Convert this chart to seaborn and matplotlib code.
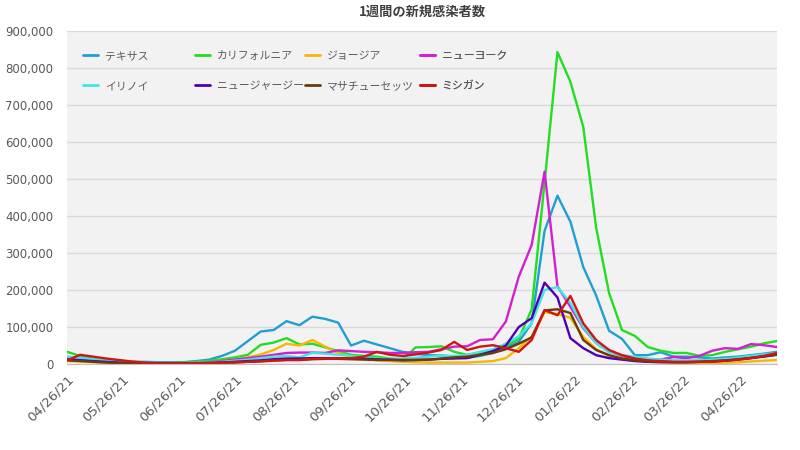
import numpy as np
import pandas as pd
import matplotlib
matplotlib.use('Agg')
import matplotlib.pyplot as plt
import matplotlib.dates as mdates
from matplotlib.lines import Line2D
from matplotlib.ticker import MultipleLocator, FuncFormatter
import seaborn as sns

# Style
sns.set_style('white', {'axes.facecolor': '#f2f2f2'})
plt.rcParams['font.family'] = ['DejaVu Sans', 'Noto Sans CJK JP']

# Weekly data (thousands of new cases), starting 2021-04-26
dates = pd.date_range('2021-04-26', periods=56, freq='7D')

states = ['テキサス', 'カリフォルニア', 'ジョージア', 'ニューヨーク',
          'イリノイ', 'ニュージャージー', 'マサチューセッツ', 'ミシガン']

texas = [15, 12, 9, 7, 6, 6, 6, 5, 5, 5, 8, 12, 22, 36, 62, 88, 92, 116, 105, 128,
         122, 112, 50, 63, 53, 43, 33, 28, 24, 23, 20, 17, 22, 30, 45, 60, 110, 360, 455, 385,
         262, 185, 90, 68, 24, 24, 32, 20, 20, 18, 15, 18, 20, 24, 28, 33]
california = [33, 22, 14, 8, 5, 4, 3, 3, 3, 4, 6, 9, 13, 18, 25, 52, 58, 70, 53, 55,
              45, 35, 25, 22, 20, 15, 12, 45, 46, 48, 33, 25, 30, 35, 50, 68, 148, 490, 843, 763,
              641, 368, 192, 92, 76, 46, 36, 30, 30, 22, 24, 33, 40, 47, 56, 62]
georgia = [8, 7, 5, 4, 3, 2, 2, 2, 2, 2, 3, 5, 8, 12, 18, 26, 38, 55, 50, 65,
           47, 30, 20, 15, 10, 8, 6, 5, 4, 4, 4, 4, 6, 8, 16, 43, 75, 140, 135, 125,
           73, 40, 22, 14, 9, 7, 5, 4, 3, 3, 3, 4, 5, 7, 9, 11]
new_york = [15, 13, 10, 7, 5, 3, 2, 2, 2, 2, 3, 5, 8, 12, 16, 20, 25, 30, 31, 31,
            30, 37, 35, 33, 32, 30, 30, 32, 33, 40, 47, 48, 65, 67, 115, 236, 322, 520, 210, 155,
            97, 57, 33, 22, 15, 13, 12, 19, 16, 22, 36, 43, 41, 54, 51, 46]
illinois = [20, 17, 13, 9, 6, 4, 3, 2, 2, 2, 3, 4, 6, 9, 12, 16, 20, 22, 18, 30,
            28, 25, 22, 18, 15, 14, 15, 17, 20, 23, 22, 25, 33, 40, 55, 75, 110, 200, 208, 165,
            100, 57, 32, 24, 20, 15, 12, 10, 10, 10, 12, 14, 17, 22, 26, 30]
new_jersey = [12, 10, 8, 6, 4, 3, 2, 2, 2, 2, 2, 3, 4, 6, 8, 10, 13, 15, 15, 16,
              16, 16, 15, 14, 13, 12, 11, 11, 12, 14, 15, 16, 25, 35, 50, 100, 124, 220, 180, 70,
              43, 24, 16, 12, 8, 6, 5, 5, 5, 6, 7, 9, 12, 16, 20, 25]
massachusetts = [10, 8, 6, 4, 3, 2, 1, 1, 1, 1, 2, 3, 4, 5, 6, 8, 10, 11, 11, 13,
                 14, 14, 13, 12, 11, 11, 10, 11, 12, 15, 18, 20, 25, 30, 40, 55, 72, 145, 148, 138,
                 65, 38, 24, 15, 10, 7, 6, 5, 5, 6, 8, 10, 13, 17, 21, 26]
michigan = [10, 25, 20, 15, 11, 7, 4, 2, 2, 2, 2, 2, 3, 4, 6, 7, 9, 11, 11, 14,
            15, 15, 16, 20, 33, 25, 22, 26, 31, 38, 60, 38, 47, 51, 43, 33, 65, 146, 132, 184,
            110, 65, 38, 24, 15, 10, 8, 6, 6, 6, 7, 9, 12, 16, 22, 30]

series = [texas, california, georgia, new_york, illinois, new_jersey, massachusetts, michigan]
colors = ['#1f9fd4', '#22dd22', '#f5b800', '#d020d0',
          '#40e6e6', '#5000b0', '#6b3a0c', '#d01414']
palette = dict(zip(states, colors))

df = pd.DataFrame({
    'date': np.tile(dates, len(states)),
    'state': np.repeat(states, len(dates)),
    'cases': np.concatenate(series) * 1000,
})

fig, ax = plt.subplots(figsize=(8, 4.5), dpi=100)
fig.subplots_adjust(left=0.084, right=0.971, bottom=0.191, top=0.931)

sns.lineplot(data=df, x='date', y='cases', hue='state', hue_order=states,
             palette=palette, linewidth=1.7, legend=False, ax=ax)

# Axes formatting
ax.set_xlim(dates[0], dates[-1])
ax.set_ylim(0, 900000)
ax.yaxis.set_major_locator(MultipleLocator(100000))
ax.yaxis.set_major_formatter(FuncFormatter(lambda v, p: f'{v:,.0f}'))
ax.xaxis.set_major_locator(mdates.MonthLocator(bymonthday=26))
ax.xaxis.set_major_formatter(mdates.DateFormatter('%m/%d/%y'))
ax.set_xlabel('')
ax.set_ylabel('')
ax.grid(axis='y', color='#d9d9d9', linewidth=1)
ax.set_axisbelow(True)
for s in ['top', 'right', 'left']:
    ax.spines[s].set_visible(False)
ax.spines['bottom'].set_color('#bfbfbf')
ax.tick_params(axis='x', direction='out', length=4, color='#bfbfbf',
               labelcolor='#595959', labelsize=9.5, pad=2)
ax.tick_params(axis='y', length=0, labelcolor='#595959', labelsize=8.5, pad=10)
for lbl in ax.get_xticklabels():
    lbl.set_rotation(45)
    lbl.set_ha('right')
    lbl.set_rotation_mode('anchor')

ax.set_title('1週間の新規感染者数', fontsize=9.5, fontweight='bold', color='#404040',
             family=['Noto Sans CJK JP', 'DejaVu Sans'], pad=11)

# Legend: 2 rows x 4 columns
col_items = [(0, 4), (1, 5), (2, 6), (3, 7)]
col_x = [0.0225, 0.180, 0.335, 0.497]
for (a, b), x in zip(col_items, col_x):
    handles = [Line2D([], [], color=colors[i], linewidth=2) for i in (a, b)]
    leg = ax.legend(handles, [states[a], states[b]], loc='upper left',
                    bbox_to_anchor=(x, 0.94), frameon=False, borderpad=0,
                    borderaxespad=0, handlelength=1.4, handletextpad=0.6,
                    labelspacing=1.85,
                    prop={'family': ['Noto Sans CJK JP', 'DejaVu Sans'], 'size': 7.8})
    for t in leg.get_texts():
        t.set_color('#595959')
    ax.add_artist(leg)

plt.savefig('out.png', dpi=100)
